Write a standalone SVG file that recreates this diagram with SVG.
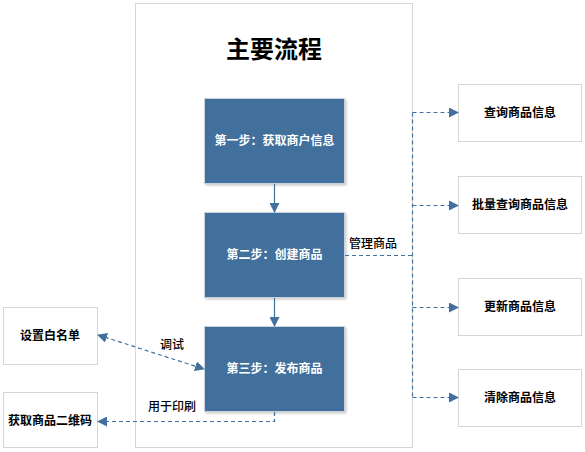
<svg xmlns="http://www.w3.org/2000/svg" width="585" height="452" viewBox="0 0 585 452">
<style>
.f{font-family:"Noto Sans CJK SC","Liberation Sans",sans-serif;}
.step rect{fill:#43709d;stroke:#c8d2dc;stroke-width:1;}
.step text{fill:#fff;font-size:12px;font-weight:bold;text-anchor:middle;}
.box rect{fill:#fff;stroke:#d6d6d6;stroke-width:1;}
.box text{fill:#000;font-size:12px;font-weight:bold;text-anchor:middle;}
.dash{fill:none;stroke:#43709d;stroke-width:1.2;stroke-dasharray:4 3;}
.solid{fill:none;stroke:#43709d;stroke-width:1.2;}
.lbl{fill:#000;font-size:12px;font-weight:500;}
</style>
<defs>
<marker id="ah" markerWidth="10" markerHeight="10" refX="9" refY="5" orient="auto-start-reverse" markerUnits="userSpaceOnUse">
<path d="M0,0 L10,5 L0,10 z" fill="#43709d"/>
</marker>
<filter id="sh" x="-10%" y="-10%" width="130%" height="130%">
<feDropShadow dx="1.5" dy="1.5" stdDeviation="1.2" flood-color="#000" flood-opacity="0.2"/>
</filter>
</defs>
<rect width="585" height="452" fill="#fff"/>
<g id="container">
<rect x="135.5" y="3.5" width="277" height="444" fill="#fff" stroke="#d6d6d6"/>
<text class="f" x="274" y="58" font-size="24" font-weight="bold" text-anchor="middle">主要流程</text>
</g>
<g id="step1" class="step f"><rect x="204.5" y="98.5" width="140" height="85" filter="url(#sh)"/><text x="274.5" y="145">第一步：获取商户信息</text></g>
<g id="step2" class="step f"><rect x="204.5" y="212.5" width="140" height="85" filter="url(#sh)"/><text x="274.5" y="259">第二步：创建商品</text></g>
<g id="step3" class="step f"><rect x="204.5" y="326.5" width="140" height="85" filter="url(#sh)"/><text x="274.5" y="373">第三步：发布商品</text></g>
<g id="n-query" class="box f"><rect x="458.5" y="84.5" width="123" height="57"/><text x="520" y="117">查询商品信息</text></g>
<g id="n-batch" class="box f"><rect x="458.5" y="176.5" width="123" height="57"/><text x="520" y="209">批量查询商品信息</text></g>
<g id="n-update" class="box f"><rect x="458.5" y="278.5" width="123" height="57"/><text x="520" y="311">更新商品信息</text></g>
<g id="n-clear" class="box f"><rect x="458.5" y="369.5" width="123" height="57"/><text x="520" y="402">清除商品信息</text></g>
<g id="n-white" class="box f"><rect x="3.5" y="307.5" width="94" height="57"/><text x="50" y="340">设置白名单</text></g>
<g id="n-qr" class="box f"><rect x="3.5" y="392.5" width="94" height="55"/><text x="50" y="425">获取商品二维码</text></g>
<g id="connectors">
<line class="solid" x1="274.5" y1="184" x2="274.5" y2="212" marker-end="url(#ah)"/>
<line class="solid" x1="274.5" y1="298" x2="274.5" y2="326" marker-end="url(#ah)"/>
<path class="dash" d="M345,255.5 H412.5"/>
<path class="dash" d="M412.5,112.5 V397.5"/>
<path class="dash" d="M412.5,112.5 H458" marker-end="url(#ah)"/>
<path class="dash" d="M412.5,205.5 H458" marker-end="url(#ah)"/>
<path class="dash" d="M412.5,307.5 H458" marker-end="url(#ah)"/>
<path class="dash" d="M412.5,397.5 H458" marker-end="url(#ah)"/>
<path class="dash" d="M98,335 L204,369" marker-start="url(#ah)" marker-end="url(#ah)"/>
<path class="dash" d="M274.5,412 V421.5 H98" marker-end="url(#ah)"/>
<text class="lbl f" x="349" y="248">管理商品</text>
<text class="lbl f" x="160" y="349">调试</text>
<text class="lbl f" x="148" y="411">用于印刷</text>
</g>
</svg>
